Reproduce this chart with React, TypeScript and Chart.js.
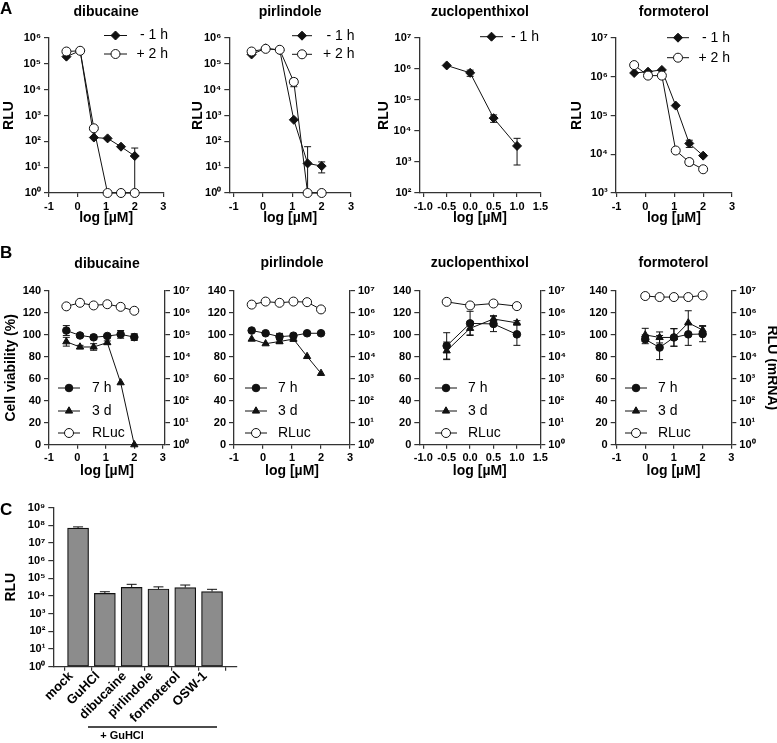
import React, { useEffect, useRef } from 'react';
import { Chart, registerables } from 'chart.js';

Chart.register(...registerables);

// ---------------- data ----------------
const DOSES = [-0.39, 0.09, 0.57, 1.05, 1.52, 2.0];
const ZUCLO_DOSES = [-0.5, 0, 0.5, 1.0];
const FORMO_B_DOSES = [0, 0.5, 1, 1.5, 2];

const A_X_TICKS = [-1, 0, 1, 2, 3];
const ZUCLO_X_TICKS = [-1.0, -0.5, 0, 0.5, 1.0, 1.5];
const A_DIB_Y_TICKS = [1e0, 1e1, 1e2, 1e3, 1e4, 1e5, 1e6];
const A_ZUC_Y_TICKS = [1e2, 1e3, 1e4, 1e5, 1e6, 1e7];
const A_FOR_Y_TICKS = [1e3, 1e4, 1e5, 1e6, 1e7];
const B_VIAB_TICKS = [0, 20, 40, 60, 80, 100, 120, 140];
const B_RLU_TICKS = [1e0, 1e1, 1e2, 1e3, 1e4, 1e5, 1e6, 1e7];
const C_Y_TICKS = [1e0, 1e1, 1e2, 1e3, 1e4, 1e5, 1e6, 1e7, 1e8, 1e9];

const DRUGS = ['dibucaine', 'pirlindole', 'zuclopenthixol', 'formoterol'];
const A_SERIES_LABELS = ['- 1 h', '+ 2 h'];
const B_SERIES_LABELS = ['7 h', '3 d', 'RLuc'];
const X_TITLE = 'log [µM]';
const RLU_TITLE = 'RLU';
const VIAB_TITLE = 'Cell viability (%)';
const MRNA_TITLE = 'RLU (mRNA)';

// Panel A (RLU)
const A_DIB_1H = [1.9e5, 3.2e5, 140, 130, 62, 27];
const A_DIB_1H_ERR = [0, 0, 0, 0, 0, 28];
const A_DIB_2H = [3.0e5, 3.2e5, 320, 1, 1, 1];
const A_DIB_2H_ERR = [0, 0, 0, 0, 0, 0];

const A_PIR_1H = [2.3e5, 4.0e5, 3.4e5, 680, 14, 11];
const A_PIR_1H_ERR = [0, 0, 0, 0, 48, 5];
const A_PIR_2H = [3.0e5, 3.8e5, 3.5e5, 2.0e4, 1, 1];
const A_PIR_2H_ERR = [0, 0, 0, 7e3, 0, 0];

const A_ZUC_1H = [1.3e6, 7.5e5, 2.6e4, 3.3e3];
const A_ZUC_1H_ERR = [0, 1.7e5, 7e3, 2.5e3];

const A_FOR_1H = [1.25e6, 1.35e6, 1.5e6, 1.8e5, 1.9e4, 9.2e3];
const A_FOR_1H_ERR = [0, 0, 0, 0, 4e3, 0];
const A_FOR_2H = [2.0e6, 1.07e6, 1.07e6, 1.25e4, 6.3e3, 4.1e3];
const A_FOR_2H_ERR = [0, 0, 0, 0, 1.2e3, 0];

// Panel B (viability % and RLuc)
const B_DIB_7H = [104, 99.5, 97.8, 99, 100.5, 98];
const B_DIB_7H_ERR = [4.5, 1.5, 2, 1.5, 3.5, 3];
const B_DIB_3D = [93.8, 89, 89, 93, 56.5, 0];
const B_DIB_3D_ERR = [4, 1.5, 3, 1.5, 0, 0];
const B_DIB_RLUC = [2.0e6, 2.9e6, 2.2e6, 2.5e6, 1.9e6, 1.26e6];

const B_PIR_7H = [104, 101.5, 98.4, 99.3, 101.5, 101.5];
const B_PIR_7H_ERR = [0, 0, 3, 2, 0, 0];
const B_PIR_3D = [96.2, 92, 94, 96.2, 80.4, 65];
const B_PIR_3D_ERR = [0, 0, 2, 2, 0, 0];
const B_PIR_RLUC = [2.4e6, 3.3e6, 2.9e6, 3.3e6, 3.1e6, 1.45e6];

const B_ZUC_7H = [90, 110.5, 110, 100.5];
const B_ZUC_7H_ERR = [12, 11, 7, 10];
const B_ZUC_3D = [85.5, 106, 114.5, 111];
const B_ZUC_3D_ERR = [8, 6, 3, 2];
const B_ZUC_RLUC = [3.2e6, 2.2e6, 2.7e6, 2.05e6];

const B_FOR_7H = [96, 88.5, 97.7, 100.5, 100.8];
const B_FOR_7H_ERR = [4, 11, 8, 10, 7];
const B_FOR_3D = [100, 97.7, 97.7, 111, 104.5];
const B_FOR_3D_ERR = [6, 5, 8, 11, 4];
const B_FOR_RLUC = [5.9e6, 5.3e6, 5.3e6, 5.3e6, 6.3e6];

const ZERO6 = [0, 0, 0, 0, 0, 0];
const ZERO5 = [0, 0, 0, 0, 0];
const ZERO4 = [0, 0, 0, 0];

// Panel C
const C_CATEGORIES = ['mock', 'GuHCl', 'dibucaine', 'pirlindole', 'formoterol', 'OSW-1'];
const C_VALUES = [7.0e7, 1.4e4, 3.1e4, 2.5e4, 3.0e4, 1.8e4];
const C_ERR = [1.2e7, 3.5e3, 1.5e4, 8e3, 1.2e4, 6e3];
const C_GROUP_LABEL = '+ GuHCl';

// ---------------- styling helpers ----------------
const FONT = "'Liberation Sans', Arial, Helvetica, sans-serif";
const INK = '#111111';
const AXIS = '#333333';
const BAR_GRAY = '#8c8c8c';
const LH = 14 * 1.2;
const SUP = ['⁰', '¹', '²', '³', '⁴', '⁵', '⁶', '⁷', '⁸', '⁹'];
const pow10Label = (v: number) => '10' + SUP[Math.round(Math.log10(v))];

const tickFont = { family: FONT, size: 11, weight: 'bold' as const };
const titleFont = { family: FONT, size: 14, weight: 'bold' as const };

const gridOpts = (len: number) => ({
  display: true,
  drawOnChartArea: false,
  drawTicks: true,
  tickLength: len,
  tickColor: AXIS,
  tickWidth: 1.2,
  color: AXIS,
  lineWidth: 1.2,
});
const borderOpts = { display: true, color: AXIS, width: 1.3 };

function drawMarker(ctx: CanvasRenderingContext2D, kind: string, x: number, y: number, r: number, fill: string) {
  ctx.beginPath();
  if (kind === 'circle') {
    ctx.arc(x, y, r, 0, Math.PI * 2);
  } else if (kind === 'rectRot') {
    ctx.moveTo(x, y - r);
    ctx.lineTo(x + r, y);
    ctx.lineTo(x, y + r);
    ctx.lineTo(x - r, y);
    ctx.closePath();
  } else {
    ctx.moveTo(x, y - r);
    ctx.lineTo(x + r * 0.866, y + r * 0.5);
    ctx.lineTo(x - r * 0.866, y + r * 0.5);
    ctx.closePath();
  }
  ctx.fillStyle = fill;
  ctx.fill();
  ctx.strokeStyle = INK;
  ctx.lineWidth = 1;
  ctx.stroke();
}

function drawErrors(chart: any, cap: number, upOnly: boolean) {
  const ctx = chart.ctx;
  chart.data.datasets.forEach((ds: any, i: number) => {
    const errs = ds.errors;
    if (!errs) return;
    const meta = chart.getDatasetMeta(i);
    const xs = chart.scales[meta.xAxisID];
    const ys = chart.scales[meta.yAxisID];
    ctx.save();
    ctx.strokeStyle = INK;
    ctx.lineWidth = 1;
    ds.data.forEach((pt: any, j: number) => {
      const e = errs[j];
      if (!e) return;
      const px = xs.getPixelForValue(pt.x);
      const topV = Math.min(pt.y + e, ys.max);
      const botV = upOnly ? pt.y : Math.max(pt.y - e, ys.min);
      const pTop = ys.getPixelForValue(topV);
      const pBot = ys.getPixelForValue(botV);
      ctx.beginPath();
      ctx.moveTo(px, pTop);
      ctx.lineTo(px, pBot);
      if (pt.y + e <= ys.max) {
        ctx.moveTo(px - cap, pTop);
        ctx.lineTo(px + cap, pTop);
      }
      if (!upOnly && pt.y - e > ys.min) {
        ctx.moveTo(px - cap, pBot);
        ctx.lineTo(px + cap, pBot);
      }
      ctx.stroke();
    });
    ctx.restore();
  });
}

function makeExtras(cfg: any) {
  return {
    id: 'gpExtras',
    beforeDatasetsDraw(chart: any) {
      if (!cfg.errAfter) drawErrors(chart, cfg.cap, !!cfg.upOnly);
    },
    afterDatasetsDraw(chart: any) {
      if (cfg.errAfter) drawErrors(chart, cfg.cap, !!cfg.upOnly);
    },
    afterDraw(chart: any) {
      const ctx: CanvasRenderingContext2D = chart.ctx;
      const ox = cfg.cx, oy = cfg.cy;
      ctx.save();
      ctx.textBaseline = 'middle';
      if (cfg.title) {
        const ca = chart.chartArea;
        ctx.font = `bold 14px ${FONT}`;
        ctx.fillStyle = '#000';
        ctx.textAlign = 'center';
        ctx.fillText(cfg.title, (ca.left + ca.right) / 2, cfg.titleY - oy);
      }
      if (cfg.legend) {
        const lg = cfg.legend;
        chart.data.datasets.forEach((ds: any, i: number) => {
          if (lg.ys[i] === undefined) return;
          const y = lg.ys[i] - oy;
          const x1 = lg.x1 - ox, x2 = lg.x2 - ox;
          ctx.strokeStyle = INK;
          ctx.lineWidth = 1;
          ctx.beginPath();
          ctx.moveTo(x1, y);
          ctx.lineTo(x2, y);
          ctx.stroke();
          drawMarker(ctx, ds.pointStyle, (x1 + x2) / 2, y, ds.pointRadius, ds.pointBackgroundColor);
          ctx.font = `14px ${FONT}`;
          ctx.fillStyle = '#000';
          ctx.textAlign = lg.align;
          ctx.fillText(ds.label, lg.tx - ox, y);
        });
      }
      (cfg.lines || []).forEach((l: any) => {
        ctx.strokeStyle = INK;
        ctx.lineWidth = l.w;
        ctx.beginPath();
        ctx.moveTo(l.x1 - ox, l.y - oy);
        ctx.lineTo(l.x2 - ox, l.y - oy);
        ctx.stroke();
      });
      (cfg.texts || []).forEach((t: any) => {
        ctx.font = `${t.bold ? 'bold ' : ''}${t.size}px ${FONT}`;
        ctx.fillStyle = '#000';
        ctx.textAlign = t.align;
        ctx.fillText(t.text, t.x - ox, t.y - oy);
      });
      ctx.restore();
    },
  };
}

type Series = { label: string; x: number[]; y: number[]; err: number[]; axis: string; marker: string; fill: string; r: number; order: number };

const diamond = (label: string, x: number[], y: number[], err: number[]): Series => ({ label, x, y, err, axis: 'y', marker: 'rectRot', fill: INK, r: 4.5, order: 1 });
const openCircle = (label: string, x: number[], y: number[], err: number[], axis = 'y'): Series => ({ label, x, y, err, axis, marker: 'circle', fill: '#ffffff', r: 4.5, order: 0 });
const dot = (label: string, x: number[], y: number[], err: number[]): Series => ({ label, x, y, err, axis: 'y', marker: 'circle', fill: INK, r: 3.8, order: 1 });
const tri = (label: string, x: number[], y: number[], err: number[]): Series => ({ label, x, y, err, axis: 'y', marker: 'triangle', fill: INK, r: 4.2, order: 2 });

const common = {
  responsive: false,
  maintainAspectRatio: false,
  animation: false,
  devicePixelRatio: 1,
  events: [],
  plugins: { legend: { display: false }, tooltip: { enabled: false }, title: { display: false } },
};

function yScale(p: any, side: 'left' | 'right') {
  const right = p.cx + p.cw;
  const isL = side === 'left';
  const min = isL ? p.yMin : p.rMin;
  const max = isL ? p.yMax : p.rMax;
  const ticks = isL ? p.yTicks : p.rTicks;
  const log = isL ? p.yLog : true;
  const title = isL ? p.yTitle : p.rTitle;
  const titleX = isL ? p.yTitleX : p.rTitleX;
  const w = isL ? p.L - p.cx : right - p.R;
  const pad = title ? (isL ? titleX - p.cx - LH / 2 : right - LH / 2 - titleX) : 0;
  return {
    type: log ? 'logarithmic' : 'linear',
    position: side,
    min,
    max,
    afterBuildTicks: (s: any) => { s.ticks = ticks.map((v: number) => ({ value: v })); },
    afterFit: (s: any) => { s.width = w; },
    ticks: {
      callback: (v: any) => (log ? pow10Label(Number(v)) : String(v)),
      font: tickFont,
      color: '#000',
      padding: 3,
      autoSkip: false,
    },
    grid: gridOpts(5),
    border: borderOpts,
    title: { display: !!title, text: title || '', font: titleFont, color: '#000', padding: { top: pad, bottom: 0 } },
  };
}

function lineConfig(p: any) {
  const right = p.cx + p.cw;
  const bottom = p.cy + p.ch;
  const hasR = p.rMin !== undefined;
  const scales: any = {
    x: {
      type: 'linear',
      position: 'bottom',
      min: p.xMin,
      max: p.xMax,
      afterBuildTicks: (s: any) => { s.ticks = p.xTicks.map((v: number) => ({ value: v })); },
      afterFit: (s: any) => { s.height = bottom - p.B; },
      ticks: {
        callback: (v: any) => Number(v).toFixed(p.xDec),
        font: tickFont,
        color: '#000',
        padding: 3,
        maxRotation: 0,
        minRotation: 0,
        autoSkip: false,
      },
      grid: gridOpts(4),
      border: borderOpts,
      title: { display: true, text: X_TITLE, font: titleFont, color: '#000', padding: { top: 0, bottom: bottom - LH / 2 - p.xTitleY } },
    },
    y: yScale(p, 'left'),
  };
  if (hasR) scales.yR = yScale(p, 'right');
  const datasets = p.series.map((s: Series) => ({
    label: s.label,
    data: s.x.map((x, i) => ({ x, y: s.y[i] })),
    errors: s.err,
    xAxisID: 'x',
    yAxisID: s.axis,
    borderColor: INK,
    borderWidth: 1,
    backgroundColor: s.fill,
    pointStyle: s.marker,
    pointRadius: s.r,
    pointBackgroundColor: s.fill,
    pointBorderColor: INK,
    pointBorderWidth: 1,
    tension: 0,
    fill: false,
    clip: false,
    order: s.order,
  }));
  return {
    type: 'line',
    data: { datasets },
    options: {
      ...common,
      layout: { padding: { left: 0, top: p.T - p.cy, right: hasR ? 0 : right - p.R, bottom: 0 } },
      scales,
    },
    plugins: [makeExtras({ cx: p.cx, cy: p.cy, title: p.title, titleY: p.titleY, legend: p.legend, texts: p.texts, cap: 3.5 })],
  };
}

const PANELS: any[] = [
  // ---- Row A ----
  {
    cx: 0, cy: 0, cw: 185, ch: 228, L: 49, T: 38, R: 163.3, B: 193,
    title: DRUGS[0], titleY: 12, xMin: -1, xMax: 3, xTicks: A_X_TICKS, xDec: 0, xTitleY: 218,
    yMin: 1, yMax: 1e6, yTicks: A_DIB_Y_TICKS, yLog: true, yTitle: RLU_TITLE, yTitleX: 9.5,
    series: [diamond(A_SERIES_LABELS[0], DOSES, A_DIB_1H, A_DIB_1H_ERR), openCircle(A_SERIES_LABELS[1], DOSES, A_DIB_2H, A_DIB_2H_ERR)],
    legend: { x1: 104, x2: 127, tx: 168, ys: [35.5, 54], align: 'right' },
    texts: [{ text: 'A', x: 0, y: 9.5, size: 17, bold: true, align: 'left' }],
  },
  {
    cx: 188, cy: 0, cw: 190, ch: 228, L: 229.3, T: 38, R: 351, B: 193,
    title: DRUGS[1], titleY: 12, xMin: -1.15, xMax: 3, xTicks: A_X_TICKS, xDec: 0, xTitleY: 218,
    yMin: 1, yMax: 1e6, yTicks: A_DIB_Y_TICKS, yLog: true, yTitle: RLU_TITLE, yTitleX: 198,
    series: [diamond(A_SERIES_LABELS[0], DOSES, A_PIR_1H, A_PIR_1H_ERR), openCircle(A_SERIES_LABELS[1], DOSES, A_PIR_2H, A_PIR_2H_ERR)],
    legend: { x1: 292, x2: 312, tx: 354.5, ys: [35.7, 54.3], align: 'right' },
  },
  {
    cx: 374, cy: 0, cw: 190, ch: 228, L: 419.3, T: 38, R: 540.5, B: 193,
    title: DRUGS[2], titleY: 12, xMin: -1.085, xMax: 1.5, xTicks: ZUCLO_X_TICKS, xDec: 1, xTitleY: 218,
    yMin: 1e2, yMax: 1e7, yTicks: A_ZUC_Y_TICKS, yLog: true, yTitle: RLU_TITLE, yTitleX: 384,
    series: [diamond(A_SERIES_LABELS[0], ZUCLO_DOSES, A_ZUC_1H, A_ZUC_1H_ERR)],
    legend: { x1: 480, x2: 503, tx: 539, ys: [36.7], align: 'right' },
  },
  {
    cx: 567, cy: 0, cw: 210, ch: 228, L: 615.7, T: 38, R: 732, B: 193,
    title: DRUGS[3], titleY: 12, xMin: -1.03, xMax: 3, xTicks: A_X_TICKS, xDec: 0, xTitleY: 218,
    yMin: 1e3, yMax: 1e7, yTicks: A_FOR_Y_TICKS, yLog: true, yTitle: RLU_TITLE, yTitleX: 577,
    series: [diamond(A_SERIES_LABELS[0], DOSES, A_FOR_1H, A_FOR_1H_ERR), openCircle(A_SERIES_LABELS[1], DOSES, A_FOR_2H, A_FOR_2H_ERR)],
    legend: { x1: 667, x2: 689, tx: 730, ys: [37.7, 57.7], align: 'right' },
  },
  // ---- Row B ----
  {
    cx: 0, cy: 240, cw: 195, ch: 242, L: 49, T: 291, R: 165, B: 444.7,
    title: DRUGS[0], titleY: 264, xMin: -1, xMax: 3.08, xTicks: A_X_TICKS, xDec: 0, xTitleY: 471,
    yMin: 0, yMax: 140, yTicks: B_VIAB_TICKS, yLog: false, yTitle: VIAB_TITLE, yTitleX: 11,
    rMin: 1, rMax: 1e7, rTicks: B_RLU_TICKS,
    series: [
      dot(B_SERIES_LABELS[0], DOSES, B_DIB_7H, B_DIB_7H_ERR),
      tri(B_SERIES_LABELS[1], DOSES, B_DIB_3D, B_DIB_3D_ERR),
      openCircle(B_SERIES_LABELS[2], DOSES, B_DIB_RLUC, ZERO6, 'yR'),
    ],
    legend: { x1: 58, x2: 80, tx: 92, ys: [388, 411, 433], align: 'left' },
    texts: [{ text: 'B', x: 0, y: 253, size: 17, bold: true, align: 'left' }],
  },
  {
    cx: 194, cy: 240, cw: 186, ch: 242, L: 234, T: 291, R: 350, B: 444.7,
    title: DRUGS[1], titleY: 263, xMin: -1, xMax: 3, xTicks: A_X_TICKS, xDec: 0, xTitleY: 471,
    yMin: 0, yMax: 140, yTicks: B_VIAB_TICKS, yLog: false,
    rMin: 1, rMax: 1e7, rTicks: B_RLU_TICKS,
    series: [
      dot(B_SERIES_LABELS[0], DOSES, B_PIR_7H, B_PIR_7H_ERR),
      tri(B_SERIES_LABELS[1], DOSES, B_PIR_3D, B_PIR_3D_ERR),
      openCircle(B_SERIES_LABELS[2], DOSES, B_PIR_RLUC, ZERO6, 'yR'),
    ],
    legend: { x1: 245, x2: 267, tx: 278, ys: [388, 411, 433], align: 'left' },
  },
  {
    cx: 380, cy: 240, cw: 190, ch: 242, L: 419.3, T: 291, R: 540.3, B: 444.7,
    title: DRUGS[2], titleY: 263, xMin: -1.085, xMax: 1.5, xTicks: ZUCLO_X_TICKS, xDec: 1, xTitleY: 471,
    yMin: 0, yMax: 140, yTicks: B_VIAB_TICKS, yLog: false,
    rMin: 1, rMax: 1e7, rTicks: B_RLU_TICKS,
    series: [
      dot(B_SERIES_LABELS[0], ZUCLO_DOSES, B_ZUC_7H, B_ZUC_7H_ERR),
      tri(B_SERIES_LABELS[1], ZUCLO_DOSES, B_ZUC_3D, B_ZUC_3D_ERR),
      openCircle(B_SERIES_LABELS[2], ZUCLO_DOSES, B_ZUC_RLUC, ZERO4, 'yR'),
    ],
    legend: { x1: 435, x2: 457, tx: 468, ys: [388, 411, 433], align: 'left' },
  },
  {
    cx: 575, cy: 240, cw: 208, ch: 242, L: 615.7, T: 291, R: 731.3, B: 444.7,
    title: DRUGS[3], titleY: 263, xMin: -1.03, xMax: 3, xTicks: A_X_TICKS, xDec: 0, xTitleY: 471,
    yMin: 0, yMax: 140, yTicks: B_VIAB_TICKS, yLog: false,
    rMin: 1, rMax: 1e7, rTicks: B_RLU_TICKS, rTitle: MRNA_TITLE, rTitleX: 772,
    series: [
      dot(B_SERIES_LABELS[0], FORMO_B_DOSES, B_FOR_7H, B_FOR_7H_ERR),
      tri(B_SERIES_LABELS[1], FORMO_B_DOSES, B_FOR_3D, B_FOR_3D_ERR),
      openCircle(B_SERIES_LABELS[2], FORMO_B_DOSES, B_FOR_RLUC, ZERO5, 'yR'),
    ],
    legend: { x1: 625, x2: 647, tx: 658, ys: [388, 411, 433], align: 'left' },
  },
];

const C_BOX = { cx: 0, cy: 490, cw: 260, ch: 253, L: 53.3, T: 507.7, R: 236.7, B: 666.7 };

function barConfig() {
  const p = C_BOX;
  const right = p.cx + p.cw;
  const bottom = p.cy + p.ch;
  return {
    type: 'bar',
    data: {
      datasets: [{
        label: RLU_TITLE,
        data: C_VALUES.map((v, i) => ({ x: i, y: v })),
        errors: C_ERR,
        backgroundColor: BAR_GRAY,
        borderColor: INK,
        borderWidth: 1.2,
        borderSkipped: false,
        barThickness: 21,
        base: 1,
      }],
    },
    options: {
      ...common,
      layout: { padding: { left: 0, top: p.T - p.cy, right: right - p.R, bottom: 0 } },
      scales: {
        x: {
          type: 'linear',
          position: 'bottom',
          min: -0.354,
          max: 5.35,
          afterBuildTicks: (s: any) => { s.ticks = C_CATEGORIES.map((_, i) => ({ value: i })); },
          afterFit: (s: any) => { s.height = bottom - p.B; },
          ticks: {
            callback: (v: any) => C_CATEGORIES[Math.round(Number(v))],
            font: { family: FONT, size: 13, weight: 'bold' },
            color: '#000',
            padding: -2,
            labelOffset: -7,
            minRotation: 45,
            maxRotation: 45,
            autoSkip: false,
          },
          grid: gridOpts(4),
          border: borderOpts,
        },
        y: {
          type: 'logarithmic',
          position: 'left',
          min: 1,
          max: 1e9,
          afterBuildTicks: (s: any) => { s.ticks = C_Y_TICKS.map((v) => ({ value: v })); },
          afterFit: (s: any) => { s.width = p.L - p.cx; },
          ticks: { callback: (v: any) => pow10Label(Number(v)), font: tickFont, color: '#000', padding: 3, autoSkip: false },
          grid: gridOpts(5),
          border: borderOpts,
          title: { display: true, text: RLU_TITLE, font: titleFont, color: '#000', padding: { top: 11 - p.cx - LH / 2, bottom: 0 } },
        },
      },
    },
    plugins: [makeExtras({
      cx: p.cx, cy: p.cy, cap: 5, upOnly: true, errAfter: true,
      lines: [{ x1: 88, x2: 217, y: 727, w: 1.5 }],
      texts: [
        { text: 'C', x: 0, y: 510.5, size: 17, bold: true, align: 'left' },
        { text: C_GROUP_LABEL, x: 122, y: 736, size: 11, bold: true, align: 'center' },
      ],
    })],
  };
}

function ChartBox({ box, build }: { box: any; build: () => any }) {
  const ref = useRef<HTMLCanvasElement>(null);
  useEffect(() => {
    const chart = new Chart(ref.current as HTMLCanvasElement, build() as any);
    return () => chart.destroy();
  }, []);
  return (
    <canvas
      ref={ref}
      width={box.cw}
      height={box.ch}
      style={{ position: 'absolute', left: box.cx, top: box.cy, width: box.cw, height: box.ch }}
    />
  );
}

export default function App() {
  return (
    <div style={{ position: 'absolute', left: 0, top: 0, width: 777, height: 743, overflow: 'hidden', background: '#ffffff' }}>
      {PANELS.map((p, i) => (
        <ChartBox key={i} box={p} build={() => lineConfig(p)} />
      ))}
      <ChartBox box={C_BOX} build={barConfig} />
    </div>
  );
}
